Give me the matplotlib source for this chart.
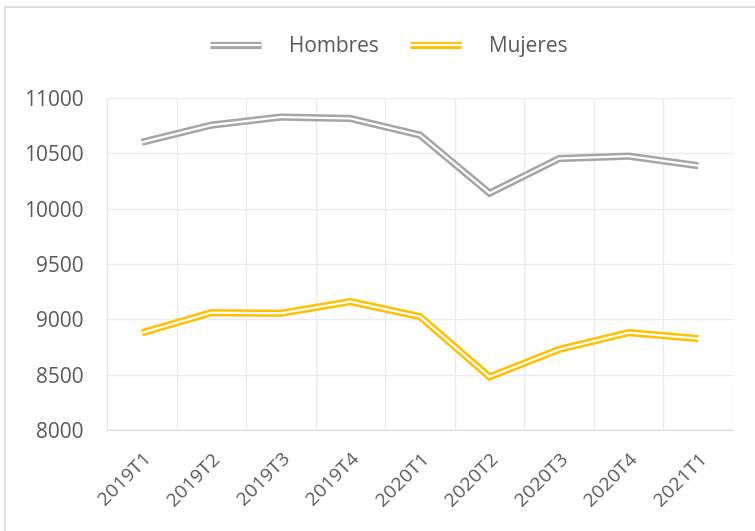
import matplotlib
matplotlib.use("Agg")
import matplotlib.pyplot as plt
import matplotlib.patheffects as pe
from matplotlib.lines import Line2D
import numpy as np

quarters = ["2019T1", "2019T2", "2019T3", "2019T4", "2020T1",
            "2020T2", "2020T3", "2020T4", "2021T1"]
hombres = [10600, 10755, 10828, 10815, 10665, 10140, 10453, 10475, 10388]
mujeres = [8878, 9060, 9055, 9160, 9025, 8480, 8728, 8880, 8826]

plt.rcParams['font.family'] = ['Open Sans', 'DejaVu Sans']
text_col = '#595959'
fs = 15

fig = plt.figure(figsize=(7.55, 5.31), dpi=100)
ax = fig.add_axes([0.1417, 0.1902, 0.8292, 0.6252])

x = np.arange(len(quarters))

def double_line(vals, col, label):
    ax.plot(x, vals, color='white', lw=1.6, label=label, zorder=3,
            solid_joinstyle='miter', solid_capstyle='butt',
            path_effects=[pe.Stroke(linewidth=5.2, foreground=col), pe.Normal()])

double_line(hombres, '#A5A5A5', 'Hombres')
double_line(mujeres, '#FFC000', 'Mujeres')

ax.set_xlim(-0.5, len(quarters) - 0.5)
ax.set_ylim(8000, 11000)
ax.set_yticks(np.arange(8000, 11001, 500))
ax.set_xticks(x)
ax.set_xticklabels(quarters, rotation=45, ha='right', rotation_mode='anchor', fontsize=14)
ax.set_xticks(np.arange(-0.5, len(quarters)), minor=True)

ax.grid(axis='y', color='#EBEBEB', lw=1.0)
ax.grid(axis='x', which='minor', color='#EBEBEB', lw=1.0)
ax.set_axisbelow(True)
for s in ['top', 'right']:
    ax.spines[s].set_visible(False)
ax.spines['left'].set_color('#E6E6E6')
ax.spines['bottom'].set_color('#D9D9D9')
ax.tick_params(axis='both', which='both', length=0, colors=text_col)
ax.tick_params(axis='y', pad=17, labelsize=fs)
ax.tick_params(axis='x', pad=14)

leg = fig.legend(loc='center', bbox_to_anchor=(0.515, 0.912), ncol=2, frameon=False,
                 fontsize=fs, handlelength=2.45, columnspacing=1.5, handletextpad=1.35)
for t in leg.get_texts():
    t.set_color(text_col)

# figure frame (left and top edges visible)
fig.add_artist(Line2D([5 / 755, 5 / 755], [0, 1 - 7 / 531], color='#D9D9D9', lw=1.2,
                      transform=fig.transFigure))
fig.add_artist(Line2D([5 / 755, 1], [1 - 7 / 531, 1 - 7 / 531], color='#D9D9D9', lw=1.2,
                      transform=fig.transFigure))

fig.savefig("out.png", dpi=100)
